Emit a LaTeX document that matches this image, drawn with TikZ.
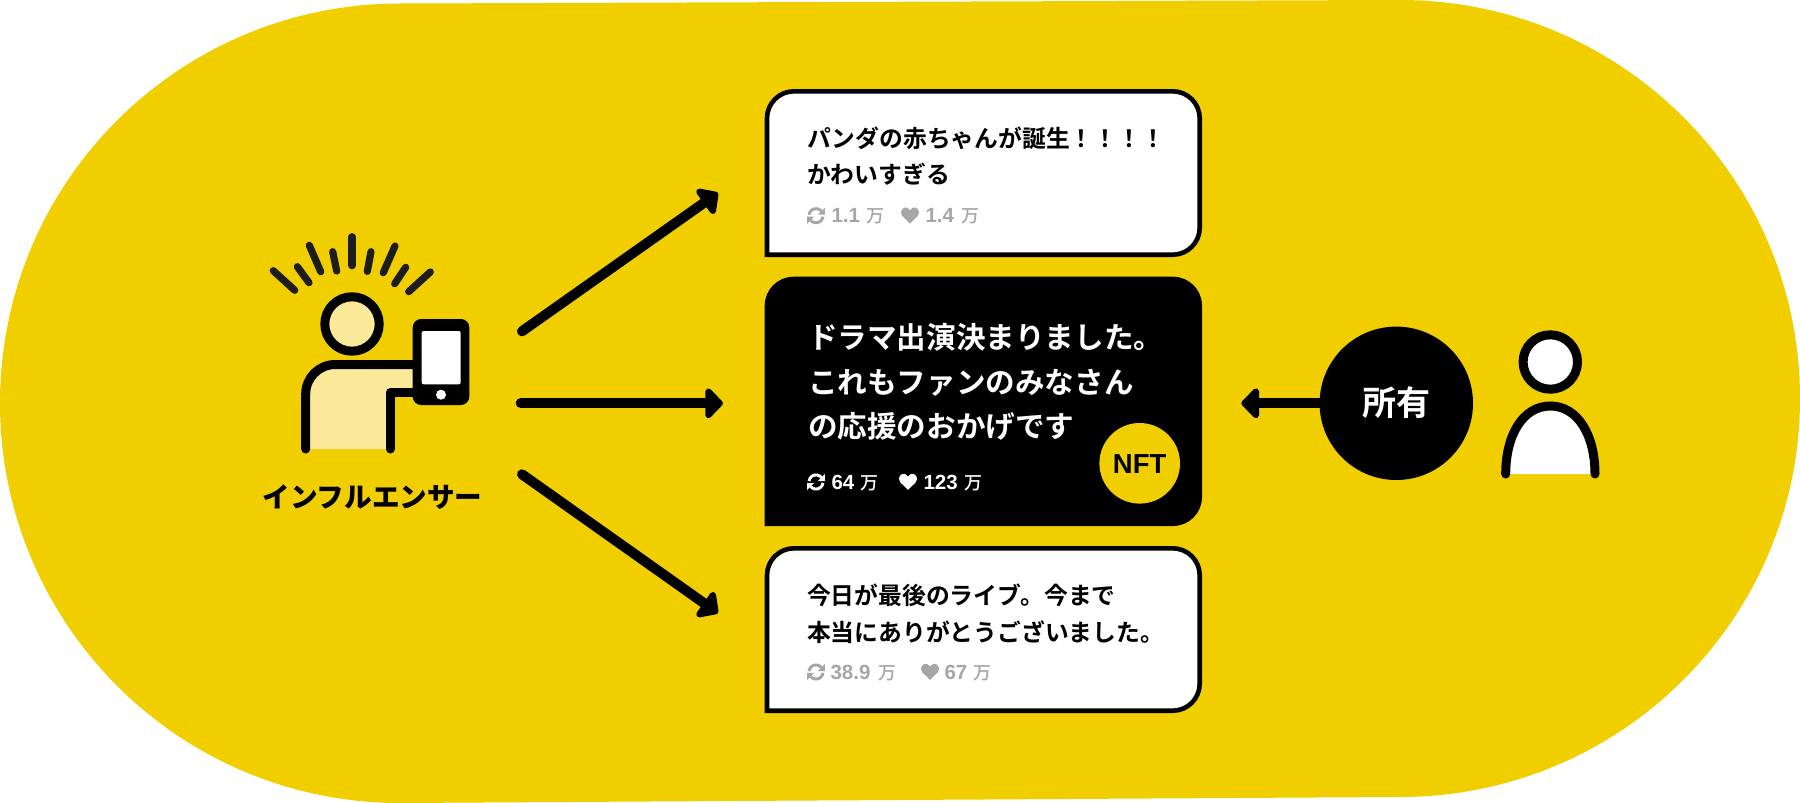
\documentclass[tikz,border=0pt]{standalone}
\usepackage{fontspec}
\usetikzlibrary{arrows.meta}
\newfontfamily\jpm{Noto Sans CJK JP Medium}
\newfontfamily\jpb{Noto Sans CJK JP Bold}
\newfontfamily\jpk{Noto Sans CJK JP Black}
\newfontfamily\numf{Liberation Sans Bold}
\definecolor{yel}{HTML}{F1CE00}
\definecolor{pale}{HTML}{FBE99A}
\definecolor{inkk}{HTML}{1D1D1B}
\definecolor{grayt}{HTML}{A6A6A6}
\pgfdeclarearrow{
  name=RoundHead,
  setup code={
    \pgfarrowssettipend{0pt}
    \pgfarrowssetlineend{-12pt}
    \pgfarrowssetbackend{-18pt}
    \pgfarrowssetvisualbackend{-12pt}
  },
  drawing code={
    \pgfsetroundjoin
    \pgfsetlinewidth{6pt}
    \pgfpathmoveto{\pgfpoint{-3.4pt}{0pt}}
    \pgfpathlineto{\pgfpoint{-15pt}{12pt}}
    \pgfpathlineto{\pgfpoint{-15pt}{-12pt}}
    \pgfpathclose
    \pgfusepathqfillstroke
  }
}
\tikzset{
  card/.style={draw=black,fill=white,line width=4.6pt},
  cardblack/.style={fill=black},
  stroke/.style={draw=black,line width=9pt,line cap=round},
  ray/.style={draw=inkk,line width=7.2pt,line cap=round},
  arr/.style={draw=black,line width=10pt,line cap=round,-{RoundHead}},
  ttext/.style={anchor=base west,inner sep=0pt,outer sep=0pt},
  small/.style={ttext,font=\jpb\fontsize{23.8}{23.8}\selectfont,text=black},
  big/.style={ttext,font=\jpb\fontsize{29.6}{29.6}\selectfont,text=white},
  num/.style={ttext,font=\numf\fontsize{20.5}{20.5}\selectfont},
  man/.style={ttext,font=\jpm\fontsize{18}{18}\selectfont},
  rt/.pic={
    \path[draw=\pgfkeysvalueof{/tikz/iconcol},line width=2.9pt]
      (-7,-0.9) arc[start angle=187,end angle=320,radius=7.05];
    \path[draw=\pgfkeysvalueof{/tikz/iconcol},line width=2.9pt]
      (7,0.9) arc[start angle=7,end angle=140,radius=7.05];
    \fill[\pgfkeysvalueof{/tikz/iconcol}] (8.8,-8) -- (8.8,-1) -- (2,-1) -- cycle;
    \fill[\pgfkeysvalueof{/tikz/iconcol}] (-8.8,8) -- (-8.8,1) -- (-2,1) -- cycle;
  },
  ht/.pic={
    \fill[\pgfkeysvalueof{/tikz/iconcol},scale=1.06] (0,7.4) -- (-7.2,0.4)
      .. controls (-10.8,-3.8) and (-6.4,-9) .. (-3,-7.6)
      .. controls (-1.6,-7) and (-0.6,-6) .. (0,-5)
      .. controls (0.6,-6) and (1.6,-7) .. (3,-7.6)
      .. controls (6.4,-9) and (10.8,-3.8) .. (7.2,0.4) -- cycle;
  },
  iconcol/.initial=black
}
\begin{document}
\begin{tikzpicture}[x=1pt,y=-1pt]
\useasboundingbox (0,0) rectangle (1800,803);
% yellow ground
\fill[yel] (400,3.5) -- (1400,0)
  .. controls (1621,0) and (1800,178.4) .. (1800,398.5)
  .. controls (1800,618.6) and (1621,797) .. (1400,797)
  -- (400,803)
  .. controls (179,803) and (0,624) .. (0,403)
  .. controls (0,182) and (179,3.5) .. (400,3.5) -- cycle;
% influencer
\foreach \a/\b/\c/\d in {273.3/270.7/294.7/290.3,297.3/266.7/309/282.7,309.3/245.3/320.7/271.7,332.7/251.7/336.7/271,352/236.7/352/265.7,371/251.7/367.3/271.3,395/246/383.3/272.7,405.7/267.3/394.7/283.7,430.3/272/408.7/291.7}
  \draw[ray] (\a,\b) -- (\c,\d);
\fill[pale] (305.7,449) -- (305.7,394) arc[start angle=180,end angle=270,radius=29.5] -- (413,364.5) -- (413,392) -- (390.3,392) -- (390.3,449) -- cycle;
\node[circle,draw=black,fill=pale,line width=9pt,minimum size=54.4pt,inner sep=0pt] (head) at (352,324) {};
\draw[stroke,line join=round] (305.7,449) -- (305.7,394) arc[start angle=180,end angle=270,radius=29.5] -- (415,364.5);
\draw[stroke,line join=round] (390.3,449) -- (390.3,392) -- (415,392);
\fill[black,rounded corners=8.5pt] (412.7,319) rectangle (469.3,405);
\fill[white,rounded corners=2pt] (421.7,331) rectangle (460.7,384.3);
\fill[white] (441,394.7) circle[radius=5];
\node[ttext,anchor=base,font=\jpk\fontsize{27.6}{27.6}\selectfont,text=black] (infl) at (372.5,507) {インフルエンサー};
% arrows
\coordinate (a1s) at (522,331.3); \coordinate (a1e) at (718.3,192.7);
\coordinate (a2s) at (520.7,403.3); \coordinate (a2e) at (723.3,403.3);
\coordinate (a3s) at (522,474.3); \coordinate (a3e) at (718.3,613.3);
\coordinate (a4e) at (1241,403.3);
\draw[arr] (a1s) -- (a1e);
\draw[arr] (a2s) -- (a2e);
\draw[arr] (a3s) -- (a3e);
% card 1
\draw[card] (767,254.7) [rounded corners=27pt] -- (767,91.3) -- (1199.7,91.3) -- (1199.7,254.7) [sharp corners] -- cycle;
\node[small] (t1a) at (807,147) {パンダの赤ちゃんが誕生！！！！};
\node[small] (t1b) at (807,183.5) {かわいすぎる};
\pic[iconcol=grayt] at (816,215.7) {rt};
\node[num,text=grayt] at (831.5,222.7) {1.1};
\node[man,text=grayt] at (866.5,222.7) {万};
\pic[iconcol=grayt] at (910,215.7) {ht};
\node[num,text=grayt] at (925.5,222.7) {1.4};
\node[man,text=grayt] at (961.5,222.7) {万};
% card 2
\fill[cardblack] (764.7,526) [rounded corners=29pt] -- (764.7,276.7) -- (1202,276.7) -- (1202,526) [sharp corners] -- cycle;
\node[big] (t2a) at (808,348) {ドラマ出演決まりました。};
\node[big] (t2b) at (808,393) {これもファンのみなさん};
\node[big] (t2c) at (808,437) {の応援のおかげです};
\pic[iconcol=white] at (816,482) {rt};
\node[num,text=white] at (831.5,489.3) {64};
\node[man,text=white] at (860,489.3) {万};
\pic[iconcol=white] at (908,482) {ht};
\node[num,text=white] at (923.5,489.3) {123};
\node[man,text=white] at (964,489.3) {万};
\node[circle,fill=yel,minimum size=80.6pt,inner sep=0pt] (nftc) at (1139.7,463.3) {};
\node[ttext,anchor=base,font=\numf\fontsize{27.5}{27.5}\selectfont,text=black] (nft) at (1139.7,473.5) {NFT};
% card 3
\draw[card] (767,710.7) [rounded corners=27pt] -- (767,548.3) -- (1199.7,548.3) -- (1199.7,710.7) [sharp corners] -- cycle;
\node[small] (t3a) at (807,604) {今日が最後のライブ。今まで};
\node[small] (t3b) at (807,641) {本当にありがとうございました。};
\pic[iconcol=grayt] at (816,672) {rt};
\node[num,text=grayt] at (830.5,679.3) {38.9};
\node[man,text=grayt] at (878,679.3) {万};
\pic[iconcol=grayt] at (930,672) {ht};
\node[num,text=grayt] at (944.5,679.3) {67};
\node[man,text=grayt] at (973,679.3) {万};
% owner
\node[circle,fill=black,minimum size=153.4pt,inner sep=0pt] (own) at (1396.3,403.3) {};
\node[ttext,anchor=base,font=\jpb\fontsize{34}{34}\selectfont,text=white] (ownt) at (1396.3,415) {所有};
\draw[arr] (own) -- (a4e);
\node[circle,draw=black,fill=white,line width=9pt,minimum size=54.4pt,inner sep=0pt] (head2) at (1550.3,362) {};
\fill[white] (1505.7,474) .. controls (1505.7,435) and (1523,406) .. (1550.3,406) .. controls (1577.6,406) and (1595,435) .. (1595,474) -- cycle;
\draw[stroke] (1505.7,474) .. controls (1505.7,435) and (1523,406) .. (1550.3,406) .. controls (1577.6,406) and (1595,435) .. (1595,474);
\end{tikzpicture}
\end{document}
